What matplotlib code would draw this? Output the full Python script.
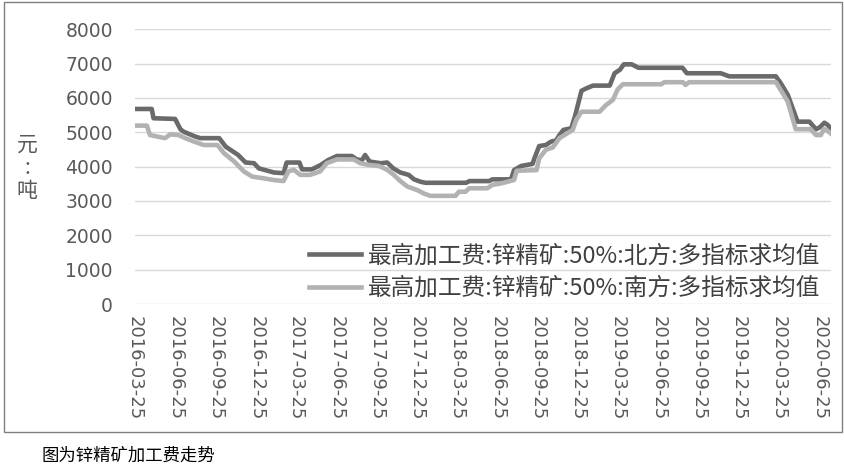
import pandas as pd
import matplotlib
matplotlib.use("Agg")
import matplotlib.pyplot as plt
import matplotlib.patches as mpatches

plt.rcParams['font.family'] = ['Noto Sans CJK SC', 'DejaVu Sans']

# 北方 series: (date, value)
north_dates = [
    "2016-03-25", "2016-05-02", "2016-05-06", "2016-06-24", "2016-07-06", "2016-07-13",
    "2016-08-06", "2016-08-20", "2016-10-02", "2016-10-17", "2016-11-14", "2016-12-01",
    "2016-12-20", "2016-12-31", "2017-02-03", "2017-02-25", "2017-03-04", "2017-04-02",
    "2017-04-08", "2017-04-30", "2017-05-19", "2017-06-06", "2017-06-26", "2017-07-30",
    "2017-08-10", "2017-08-22", "2017-08-29", "2017-09-08", "2017-10-03", "2017-10-18",
    "2017-11-01", "2017-11-17", "2017-12-06", "2017-12-18", "2018-01-02", "2018-01-13",
    "2018-04-15", "2018-04-23", "2018-06-06", "2018-06-14", "2018-07-26", "2018-08-02",
    "2018-08-18", "2018-09-13", "2018-09-17", "2018-09-28", "2018-10-13", "2018-10-25",
    "2018-11-05", "2018-11-13", "2018-11-22", "2018-12-10", "2018-12-18", "2019-01-02",
    "2019-01-13", "2019-01-28", "2019-03-07", "2019-03-18", "2019-03-30", "2019-04-08",
    "2019-04-26", "2019-05-11", "2019-08-19", "2019-08-29", "2019-11-14", "2019-12-03",
    "2020-03-18", "2020-03-29", "2020-04-14", "2020-05-06", "2020-06-02", "2020-06-17",
    "2020-06-26", "2020-07-06", "2020-07-13", "2020-07-20",
]
north_vals = [
    5680, 5680, 5410, 5390, 5090, 5020,
    4890, 4830, 4830, 4580, 4340, 4120,
    4100, 3950, 3830, 3810, 4120, 4120,
    3920, 3920, 4040, 4190, 4310, 4310,
    4210, 4190, 4340, 4150, 4100, 4120,
    3950, 3830, 3760, 3630, 3560, 3530,
    3530, 3580, 3580, 3630, 3630, 3900,
    4020, 4080, 4240, 4600, 4630, 4730,
    4760, 4920, 5070, 5120, 5460, 6210,
    6280, 6360, 6360, 6720, 6820, 6980,
    6980, 6880, 6880, 6720, 6720, 6630,
    6630, 6430, 6090, 5310, 5310, 5090,
    5150, 5280, 5220, 5120,
]

# 南方 series
south_dates = [
    "2016-03-25", "2016-04-21", "2016-04-28", "2016-05-17", "2016-06-01", "2016-06-13",
    "2016-07-02", "2016-07-17", "2016-08-06", "2016-08-28", "2016-09-28", "2016-10-13",
    "2016-11-05", "2016-11-27", "2016-12-16", "2017-01-11", "2017-02-03", "2017-02-25",
    "2017-03-08", "2017-03-20", "2017-04-04", "2017-04-26", "2017-05-19", "2017-06-03",
    "2017-06-26", "2017-08-03", "2017-08-18", "2017-09-06", "2017-09-29", "2017-10-18",
    "2017-11-02", "2017-11-17", "2017-12-03", "2017-12-25", "2018-01-09", "2018-01-24",
    "2018-03-22", "2018-03-30", "2018-04-14", "2018-04-22", "2018-06-02", "2018-06-14",
    "2018-07-03", "2018-07-18", "2018-08-02", "2018-08-08", "2018-09-22", "2018-09-28",
    "2018-10-13", "2018-10-29", "2018-11-13", "2018-11-28", "2018-12-13", "2018-12-21",
    "2019-01-02", "2019-02-12", "2019-02-27", "2019-03-14", "2019-03-25", "2019-04-06",
    "2019-07-02", "2019-07-09", "2019-08-20", "2019-08-26", "2019-09-03", "2020-03-18",
    "2020-03-29", "2020-04-14", "2020-05-02", "2020-06-05", "2020-06-17", "2020-06-28",
    "2020-07-05", "2020-07-13", "2020-07-20",
]
south_vals = [
    5195, 5195, 4920, 4870, 4830, 4940,
    4920, 4830, 4730, 4630, 4630, 4390,
    4150, 3860, 3710, 3660, 3610, 3580,
    3860, 3910, 3760, 3760, 3860, 4100,
    4210, 4210, 4100, 4050, 4020, 3910,
    3760, 3580, 3420, 3320, 3220, 3150,
    3150, 3270, 3270, 3370, 3370, 3470,
    3510, 3560, 3610, 3880, 3900, 4240,
    4490, 4560, 4830, 4950, 5070, 5360,
    5600, 5600, 5800, 5940, 6250, 6400,
    6400, 6460, 6460, 6380, 6460, 6460,
    6230, 5890, 5090, 5090, 4920, 4920,
    5100, 5050, 4970,
]

tick_labels = [
    "2016-03-25", "2016-06-25", "2016-09-25", "2016-12-25",
    "2017-03-25", "2017-06-25", "2017-09-25", "2017-12-25",
    "2018-03-25", "2018-06-25", "2018-09-25", "2018-12-25",
    "2019-03-25", "2019-06-25", "2019-09-25", "2019-12-25",
    "2020-03-25", "2020-06-25",
]
y_ticks = [0, 1000, 2000, 3000, 4000, 5000, 6000, 7000, 8000]

north_label = "最高加工费:锌精矿:50%:北方:多指标求均值"
south_label = "最高加工费:锌精矿:50%:南方:多指标求均值"

W, H = 845, 467
fig = plt.figure(figsize=(W / 100, H / 100), dpi=100)
ax = fig.add_axes([135 / W, 1 - 304 / H, (831 - 135) / W, (304 - 29.3) / H])

ax.plot(pd.to_datetime(north_dates), north_vals, color="#6a6a6a", lw=3.3,
        label=north_label, solid_joinstyle="round")
ax.plot(pd.to_datetime(south_dates), south_vals, color="#b2b2b2", lw=3.3,
        label=south_label, solid_joinstyle="round")

ax.set_xlim(pd.Timestamp("2016-03-25"), pd.Timestamp("2020-07-21"))
ax.set_ylim(0, 8000)
ax.set_yticks(y_ticks)
ax.set_yticklabels([str(v) for v in y_ticks], family="DejaVu Sans",
                   fontsize=13.5, color="#595959")
ax.set_xticks(pd.to_datetime(tick_labels))
ax.set_xticklabels(tick_labels, rotation=270, family="DejaVu Sans",
                   fontsize=13, color="#595959", va="top", ha="center")
ax.tick_params(axis="y", length=0, pad=16)
ax.tick_params(axis="x", length=0, pad=9)
ax.grid(axis="y", color="#d9d9d9", lw=1)
ax.set_axisbelow(True)
for s in ax.spines.values():
    s.set_visible(False)

leg = ax.legend(loc="lower right", bbox_to_anchor=(820 / W, 1 - 300 / H),
                bbox_transform=fig.transFigure, frameon=False,
                prop={"size": 17}, handlelength=2.2, handletextpad=0.3,
                labelspacing=0.41, borderaxespad=0, borderpad=0)
for t in leg.get_texts():
    t.set_color("#404040")

fig.text(27 / W, 1 - 168 / H, "元\n:\n吨", ha="center", va="center",
         fontsize=15, color="#595959", linespacing=1.05)

fig.add_artist(mpatches.Rectangle((4 / W, 1 - 432 / H), 838 / W, 430 / H,
                                  transform=fig.transFigure, fill=False,
                                  edgecolor="#7f7f7f", lw=1))

fig.text(42 / W, 1 - 456 / H, "图为锌精矿加工费走势", ha="left", va="center",
         fontsize=12.5, color="black")

fig.savefig("out.png", dpi=100)
